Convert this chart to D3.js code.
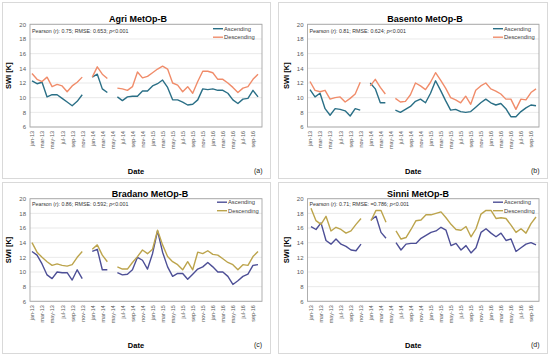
<!DOCTYPE html>
<html><head><meta charset="utf-8">
<script src="https://cdn.jsdelivr.net/npm/d3@7"></script>
<style>
html,body{margin:0;padding:0;background:#fff;}
svg{display:block;font-family:"Liberation Sans",Arial,sans-serif;}
</style></head>
<body>
<svg id="chart" width="550" height="357"></svg>
<script>
// ---------- DATA ----------
const months = ["jan-13","feb-13","mar-13","apr-13","may-13","jun-13","jul-13","aug-13","sep-13","oct-13","nov-13","dec-13",
"jan-14","feb-14","mar-14","apr-14","may-14","jun-14","jul-14","aug-14","sep-14","oct-14","nov-14","dec-14",
"jan-15","feb-15","mar-15","apr-15","may-15","jun-15","jul-15","aug-15","sep-15","oct-15","nov-15","dec-15",
"jan-16","feb-16","mar-16","apr-16","may-16","jun-16","jul-16","aug-16","sep-16","oct-16"];
const yTicks = [6,8,10,12,14,16,18,20];
const seriesNames = ["Ascending","Descending"];

const agriAsc = [12.3,11.9,12.1,10.1,10.4,10.4,9.9,9.4,8.9,9.5,10.4,null,
 12.8,13.2,11.2,10.7,null,10.1,9.6,10.1,10.2,10.2,10.9,10.9,
 11.6,11.9,12.4,11.4,9.7,9.7,9.4,9.0,9.1,9.7,11.2,11.1,
 11.2,11.0,11.0,10.6,9.7,9.2,9.8,9.9,11.0,10.1];
const agriDesc = [13.3,12.5,12.2,12.8,11.5,11.8,11.6,10.8,11.6,12.1,12.8,null,
 12.8,14.2,13.2,12.6,null,11.3,11.2,11.0,11.5,13.5,12.7,12.9,
 13.4,13.9,14.3,13.9,12.0,11.7,10.8,11.5,10.6,12.2,13.6,13.6,
 13.4,12.5,12.5,12.0,11.4,10.7,11.3,11.5,12.5,13.2];

const basentoAsc = [11.1,10.1,10.6,8.5,7.6,8.5,8.4,8.2,7.5,8.5,8.3,null,
 12.0,11.2,9.3,9.3,null,8.3,8.0,8.4,8.8,9.5,9.8,9.3,
 10.6,12.3,11.0,9.6,8.3,8.4,8.1,8.0,8.1,8.7,9.3,9.8,
 9.3,9.0,9.2,8.5,7.4,7.4,8.1,8.6,9.0,8.9];
const basentoDesc = [12.2,11.0,10.8,11.0,9.8,10.0,10.1,9.4,9.9,10.5,12.1,null,
 11.6,12.5,11.4,10.5,null,9.9,9.4,9.5,10.4,12.0,11.6,11.1,
 12.1,13.4,12.4,11.3,10.0,9.7,9.3,10.2,9.1,11.0,11.6,12.0,
 11.2,10.9,10.5,9.8,9.8,8.4,9.8,9.7,10.7,11.2];

const bradanoAsc = [12.8,12.3,11.1,9.6,9.1,10.0,9.9,9.9,8.9,10.3,9.1,null,
 12.8,13.1,10.3,10.3,null,9.9,9.6,9.7,10.3,12.0,11.6,10.4,
 12.5,15.6,12.7,10.7,9.4,9.8,9.8,9.0,9.7,10.4,10.7,11.3,
 10.7,10.0,10.0,9.4,8.3,8.8,9.4,9.7,10.9,11.0];
const bradanoDesc = [14.0,12.7,12.0,11.4,10.9,11.1,10.9,10.8,11.0,12.0,12.8,null,
 13.1,13.7,12.3,11.4,null,10.7,10.4,10.4,11.3,12.1,13.0,12.5,
 13.1,15.7,13.7,12.1,11.4,11.0,10.3,11.4,10.3,12.7,12.5,12.9,
 12.4,12.3,11.8,11.3,11.0,10.3,11.0,10.9,12.1,12.8];

const sinniAsc = [16.2,15.8,16.7,14.3,13.8,14.5,13.8,13.5,13.0,12.9,13.8,null,
 17.1,17.6,15.4,14.6,null,14.0,13.0,13.8,13.9,13.9,14.6,15.0,
 15.4,15.6,16.1,15.7,13.6,13.9,13.0,13.6,12.6,13.3,15.4,15.9,
 15.3,14.8,15.3,14.3,14.5,12.8,13.3,13.8,14.0,13.7];
const sinniDesc = [18.7,17.0,16.5,17.6,15.6,16.1,15.8,15.3,15.6,16.5,17.3,null,
 17.0,18.4,18.4,16.8,null,15.6,14.5,14.7,15.8,17.0,17.1,17.8,
 17.8,18.0,18.2,17.4,16.5,15.8,15.7,16.2,14.8,15.9,17.9,18.4,
 18.4,17.3,17.4,17.3,16.4,15.4,15.9,15.3,16.6,17.5];

const titles = ["Agri  MetOp-B","Basento  MetOp-B","Bradano  MetOp-B","Sinni  MetOp-B"];
const statsR = ["0.75","0.81","0.86","0.71"];
const statsRMSE = ["0.653","0.624","0.592","=0.786"];
const panelTags = ["(a)","(b)","(c)","(d)"];

// ---------- LAYOUT ----------
const panels = [
 {ox:0,   oy:0,   asc:agriAsc,    desc:agriDesc,    colA:"#2a6f86", colD:"#f08c6a", L:30,   R:262, T:24.3, B:127,  pad:[32,258],  titleX:138, titleY:22,   statY:32.5, legY:30.5, legX:213, dateY:174, tagY:173},
 {ox:275, oy:0,   asc:basentoAsc, desc:basentoDesc, colA:"#2a6f86", colD:"#f08c6a", L:32.5, R:264, T:24.3, B:127,  pad:[35,261],  titleX:150, titleY:22,   statY:32.5, legY:30.5, legX:218, dateY:174, tagY:173},
 {ox:0,   oy:178, asc:bradanoAsc, desc:bradanoDesc, colA:"#4d4f96", colD:"#bca44c", L:30,   R:262, T:20.7, B:123.3,pad:[32,258],  titleX:150, titleY:18.5, statY:28,   legY:26,   legX:217, dateY:170, tagY:169},
 {ox:275, oy:178, asc:sinniAsc,   desc:sinniDesc,   colA:"#4d4f96", colD:"#bca44c", L:32.5, R:264, T:20.7, B:123.3,pad:[36,261],  titleX:143, titleY:18.5, statY:28,   legY:26,   legX:218, dateY:170, tagY:169}
];
const outer = [[2.5,2.5,268,176],[278.5,2.5,269,176],[2.5,182.5,268,171],[278.5,182.5,269,171]];

const svg = d3.select("#chart");
svg.append("rect").attr("width",550).attr("height",357).attr("fill","#fff");

outer.forEach(o=>{
  svg.append("rect").attr("x",o[0]).attr("y",o[1]).attr("width",o[2]).attr("height",o[3])
    .attr("fill","none").attr("stroke","#d9d9d9").attr("stroke-width",1);
});

panels.forEach((p,pi)=>{
  const g = svg.append("g").attr("transform",`translate(${p.ox},${p.oy})`);
  const x = d3.scalePoint().domain(months).range(p.pad);
  const y = d3.scaleLinear().domain([6,20]).range([p.B,p.T]);

  // gridlines
  g.append("g").selectAll("line").data(yTicks).join("line")
    .attr("x1",p.L).attr("x2",p.R).attr("y1",d=>y(d)).attr("y2",d=>y(d))
    .attr("stroke","#e3e3e3").attr("stroke-width",0.8);
  // plot border
  g.append("rect").attr("x",p.L).attr("y",p.T).attr("width",p.R-p.L).attr("height",p.B-p.T)
    .attr("fill","none").attr("stroke","#a6a6a6").attr("stroke-width",0.9);

  // y axis labels
  const yAx = d3.axisLeft(y).tickValues(yTicks).tickSize(0).tickPadding(4);
  const ya = g.append("g").attr("transform",`translate(${p.L},0)`).call(yAx);
  ya.select(".domain").remove();
  ya.selectAll("text").attr("font-size",6).attr("fill","#595959").attr("font-family","Liberation Sans, Arial, sans-serif");

  // x axis labels
  const xAx = d3.axisBottom(x).tickValues(months.filter((m,i)=>i%2===0)).tickSize(0).tickPadding(0);
  const xa = g.append("g").attr("transform",`translate(0,${p.B})`).call(xAx);
  xa.select(".domain").remove();
  xa.selectAll("text").attr("font-size",5.4).attr("fill","#595959")
    .attr("font-family","Liberation Sans, Arial, sans-serif")
    .attr("text-anchor","end").attr("dy","0.35em")
    .attr("transform","translate(0,4) rotate(-90)").attr("x",0).attr("y",0);

  // lines
  const line = d3.line().defined(d=>d.v!==null).x(d=>x(d.m)).y(d=>y(d.v));
  [[p.asc,p.colA],[p.desc,p.colD]].forEach(([vals,col])=>{
    g.append("path").datum(months.map((m,i)=>({m:m,v:vals[i]})))
      .attr("d",line).attr("fill","none").attr("stroke",col).attr("stroke-width",1.4)
      .attr("stroke-linejoin","round");
  });

  // title
  g.append("text").attr("x",p.titleX).attr("y",p.titleY).attr("text-anchor","middle")
    .attr("font-size",9).attr("font-weight","bold").attr("fill","#000").text(titles[pi]);

  // stats text
  const st = g.append("text").attr("x",p.L+2).attr("y",p.statY).attr("font-size",5.3).attr("fill","#333");
  st.append("tspan").text("Pearson (");
  st.append("tspan").attr("font-style","italic").text("r");
  st.append("tspan").text(`): ${statsR[pi]}; RMSE: ${statsRMSE[pi]}; `);
  st.append("tspan").attr("font-style","italic").text("p");
  st.append("tspan").text("<0.001");

  // legend
  [p.colA,p.colD].forEach((c,k)=>{
    const ly = p.legY + k*8.5;
    g.append("line").attr("x1",p.legX).attr("x2",p.legX+10).attr("y1",ly-1.8).attr("y2",ly-1.8)
      .attr("stroke",c).attr("stroke-width",1.4);
    g.append("text").attr("x",p.legX+11).attr("y",ly).attr("font-size",5.8).attr("fill","#404040").text(seriesNames[k]);
  });

  // axis titles
  g.append("text").attr("transform",`translate(${p.L-19},${(p.T+p.B)/2}) rotate(-90)`)
    .attr("text-anchor","middle").attr("font-size",7.5).attr("font-weight","bold").text("SWI [K]");
  g.append("text").attr("x",(p.L+p.R)/2-10).attr("y",p.dateY).attr("text-anchor","middle")
    .attr("font-size",7.5).attr("font-weight","bold").text("Date");
  g.append("text").attr("x",p.R-8).attr("y",p.tagY).attr("text-anchor","start")
    .attr("font-size",7).attr("fill","#222").text(panelTags[pi]);
});
</script>
</body></html>
